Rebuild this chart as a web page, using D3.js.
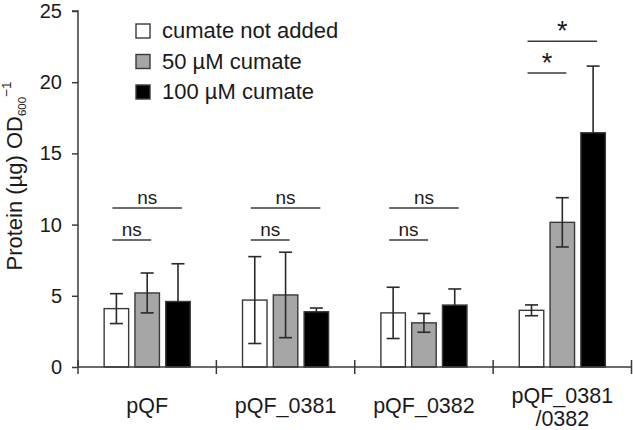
<!DOCTYPE html>
<html>
<head>
<meta charset="utf-8">
<script src="https://cdn.jsdelivr.net/npm/d3@7"></script>
<style>
  html, body { margin: 0; padding: 0; background: #fff; }
  svg { display: block; font-family: "Liberation Sans", Arial, sans-serif; }
</style>
</head>
<body>
<svg id="chart" width="633" height="430"></svg>
<script>
// ---- data ----
const categories = ["pQF", "pQF_0381", "pQF_0382", "pQF_0381/0382"];
const categoryLabelLines = [["pQF"], ["pQF_0381"], ["pQF_0382"], ["pQF_0381", "/0382"]];
const seriesNames = ["cumate not added", "50 µM cumate", "100 µM cumate"];
const valuesNoCumate = [4.1, 4.7, 3.8, 3.98];
const values50 = [5.2, 5.06, 3.1, 10.16];
const values100 = [4.6, 3.88, 4.35, 16.45];
const errorsNoCumate = [1.05, 3.05, 1.8, 0.38];
const errors50 = [1.4, 3.0, 0.66, 1.73];
const errors100 = [2.65, 0.26, 1.13, 4.68];
const yTicks = [0, 5, 10, 15, 20, 25];
// significance brackets
const bracketCategory = [0, 0, 1, 1, 2, 2, 3, 3];
const bracketFrom = [0, 0, 0, 0, 0, 0, 0, 0];
const bracketTo = [2, 1, 2, 1, 2, 1, 2, 1];
const bracketLevel = [11.17, 8.92, 11.17, 8.92, 11.17, 8.92, 22.87, 20.65];
const bracketLabel = ["ns", "ns", "ns", "ns", "ns", "ns", "*", "*"];

const seriesValues = [valuesNoCumate, values50, values100];
const seriesErrors = [errorsNoCumate, errors50, errors100];
const seriesFill = ["#ffffff", "#a6a6a6", "#000000"];

// ---- layout ----
const svg = d3.select("#chart");
const axisColor = "#3a3a3a";
const textColor = "#1a1a1a";
const x0 = 78, x1 = 631.5, yTop = 11, yBottom = 367;

const x = d3.scaleBand().domain(categories).range([x0, x1]).paddingInner(0).paddingOuter(0);
const xs = d3.scaleBand().domain(d3.range(seriesNames.length)).range([0, x.bandwidth()])
  .paddingInner(0.2045).paddingOuter(0.849);
const y = d3.scaleLinear().domain([0, 25]).range([yBottom, yTop]);

// bars
const barData = [];
seriesValues.forEach((vals, s) => vals.forEach((v, c) => barData.push({ s, c, v, e: seriesErrors[s][c] })));
const cx = d => x(categories[d.c]) + xs(d.s) + xs.bandwidth() / 2;
const isDark = d => seriesFill[d.s] === "#000000";

const g = svg.append("g");
g.selectAll("rect.bar").data(barData).enter().append("rect")
  .attr("class", "bar")
  .attr("x", d => x(categories[d.c]) + xs(d.s))
  .attr("width", xs.bandwidth())
  .attr("y", d => y(d.v))
  .attr("height", d => y(0) - y(d.v))
  .attr("fill", d => seriesFill[d.s])
  .attr("stroke", axisColor)
  .attr("stroke-width", 1.4);

// error bars (lower half hidden inside the dark bars)
const capW = 13;
const eb = g.selectAll("g.err").data(barData).enter().append("g").attr("class", "err")
  .attr("stroke", "#2a2a2a").attr("stroke-width", 1.6);
eb.append("line")
  .attr("x1", cx).attr("x2", cx)
  .attr("y1", d => isDark(d) ? y(d.v) : y(d.v - d.e)).attr("y2", d => y(d.v + d.e));
eb.append("line")
  .attr("x1", d => cx(d) - capW / 2).attr("x2", d => cx(d) + capW / 2)
  .attr("y1", d => y(d.v + d.e)).attr("y2", d => y(d.v + d.e));
eb.filter(d => !isDark(d)).append("line")
  .attr("x1", d => cx(d) - capW / 2).attr("x2", d => cx(d) + capW / 2)
  .attr("y1", d => y(d.v - d.e)).attr("y2", d => y(d.v - d.e));

// y axis
const yAxis = d3.axisLeft(y).tickValues(yTicks).tickSize(6).tickPadding(10).tickFormat(d3.format("d"));
const ya = svg.append("g").attr("transform", `translate(${x0},0)`).call(yAxis);
ya.select(".domain").attr("stroke", axisColor).attr("stroke-width", 1.5).attr("d", `M-6,${yTop}H0V${yBottom}`);
ya.selectAll(".tick line").attr("stroke", axisColor).attr("stroke-width", 1.5);
ya.selectAll(".tick text").attr("fill", textColor).attr("font-size", 20)
  .attr("font-family", "Liberation Sans, Arial, sans-serif");

// x axis line + boundary ticks
svg.append("line").attr("x1", x0).attr("x2", x1).attr("y1", yBottom).attr("y2", yBottom)
  .attr("stroke", axisColor).attr("stroke-width", 1.5);
const bounds = categories.map(c => x(c)).concat([x1]);
svg.selectAll("line.xtick").data(bounds).enter().append("line").attr("class", "xtick")
  .attr("x1", d => d).attr("x2", d => d).attr("y1", yBottom - 7).attr("y2", yBottom + 7)
  .attr("stroke", axisColor).attr("stroke-width", 1.5);

// category labels
categories.forEach((c, i) => {
  const lines = categoryLabelLines[i];
  const baseY = lines.length === 1 ? 413 : 403;
  const t = svg.append("text").attr("text-anchor", "middle").attr("fill", textColor)
    .attr("font-size", 21.5).attr("x", x(c) + x.bandwidth() / 2).attr("y", baseY);
  lines.forEach((ln, j) => t.append("tspan").attr("x", x(c) + x.bandwidth() / 2)
    .attr("dy", j === 0 ? 0 : 23).text(ln));
});

// y axis title
const yt = svg.append("text").attr("transform", "translate(22,176) rotate(-90)")
  .attr("text-anchor", "middle").attr("fill", textColor).attr("font-size", 22);
yt.append("tspan").text("Protein (µg) OD");
yt.append("tspan").attr("font-size", 11.5).attr("dy", 4).text("600");
yt.append("tspan").attr("font-size", 13.5).attr("dy", -15).text("−1");

// significance brackets
bracketLabel.forEach((lab, i) => {
  const c = categories[bracketCategory[i]];
  const xa = x(c) + xs(bracketFrom[i]) + xs.bandwidth() / 2 - 4;
  const xb = x(c) + xs(bracketTo[i]) + xs.bandwidth() / 2 + 4;
  const yy = y(bracketLevel[i]);
  svg.append("line").attr("x1", xa).attr("x2", xb).attr("y1", yy).attr("y2", yy)
    .attr("stroke", axisColor).attr("stroke-width", 1.5);
  if (lab === "*") {
    svg.append("text").attr("x", (xa + xb) / 2).attr("y", yy - 1).attr("text-anchor", "middle")
      .attr("fill", textColor).attr("font-size", 27).text(lab);
  } else {
    svg.append("text").attr("x", (xa + xb) / 2).attr("y", yy - 4).attr("text-anchor", "middle")
      .attr("fill", textColor).attr("font-size", 19).text(lab);
  }
});

// legend
const legendX = 136, legendY0 = 31, legendStep = 30.5, sq = 14;
const lg = svg.selectAll("g.legend").data(seriesNames).enter().append("g").attr("class", "legend")
  .attr("transform", (d, i) => `translate(${legendX},${legendY0 + i * legendStep})`);
lg.append("rect").attr("x", 0).attr("y", -sq / 2).attr("width", sq).attr("height", sq)
  .attr("fill", (d, i) => seriesFill[i]).attr("stroke", axisColor).attr("stroke-width", 1.4);
lg.append("text").attr("x", 26).attr("y", 7).attr("fill", textColor).attr("font-size", 22).text(d => d);
</script>
</body>
</html>
